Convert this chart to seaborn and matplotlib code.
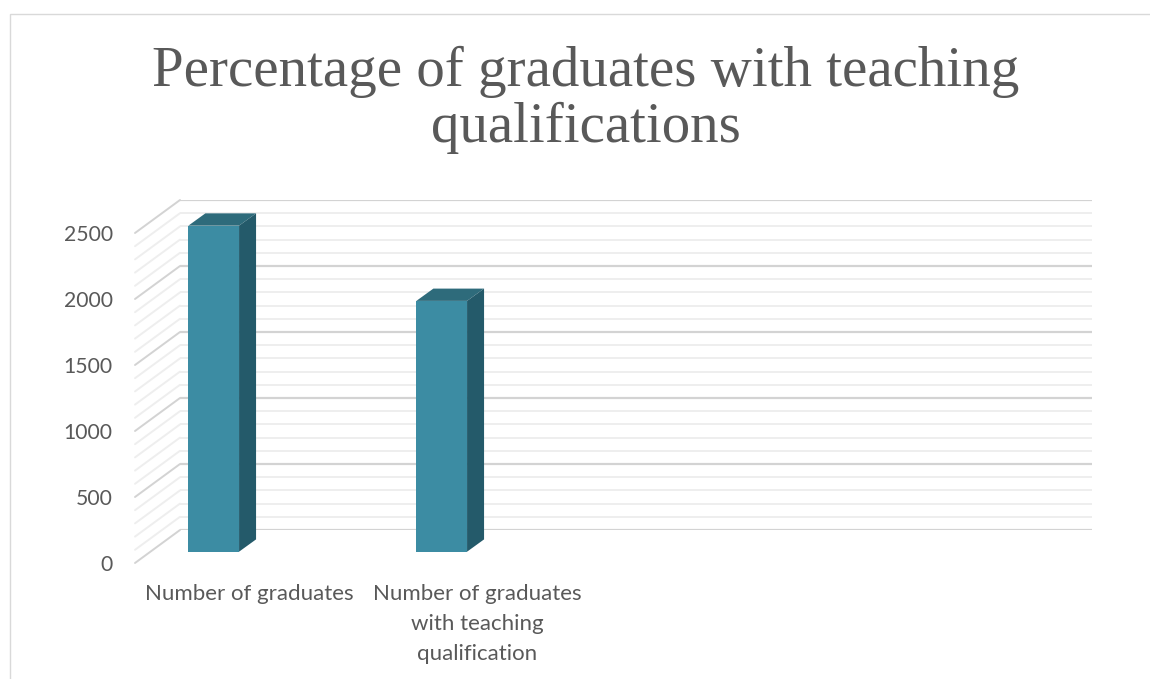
import textwrap
import matplotlib
matplotlib.use('Agg')
import matplotlib.pyplot as plt
from matplotlib.patches import Polygon, Rectangle, ConnectionPatch
import pandas as pd
import seaborn as sns

# data
categories = ["Number of graduates", "Number of graduates with teaching qualification", " ", "  "]
values = [2470, 1900]
series_names = ["Series1", "Series2", "Series3"]
y_ticks = [0, 500, 1000, 1500, 2000, 2500]
minor_ticks = list(range(0, 2501, 100))
title_lines = ["Percentage of graduates with teaching", "qualifications"]

FRONT = "#3c8ca3"
TOP = "#2e6b7b"
SIDE = "#245a6a"
TEXT = "#595959"
GRID_MAJOR = "#d3d3d3"
GRID_MINOR = "#eeeeee"

W, H = 1150, 679
sns.set_theme(style="white")
plt.rcParams['font.family'] = ['Lato', 'DejaVu Sans']

fig = plt.figure(figsize=(W / 100, H / 100), dpi=100)

plane_w = 912 / W
plane_h = 330 / H


def place(left_px, bottom_px):
    # left / bottom corner of a plane in pixels (y measured from the top)
    return [left_px / W, (H - bottom_px) / H, plane_w, plane_h]


# back wall, bar plane and front edge share the same scale, shifted in depth
back = fig.add_axes(place(180, 530), zorder=0)
front = fig.add_axes(place(135, 563), zorder=1)
ax = fig.add_axes(place(150.4, 551.7), zorder=2)

df = pd.DataFrame({"category": categories[:len(values)], "value": values, "series": series_names[0]})
sns.barplot(data=df, x="category", y="value", hue="series", order=categories,
            hue_order=series_names, palette={s: FRONT for s in series_names},
            width=0.667, dodge=True, linewidth=0, saturation=1, legend=False, ax=ax)

for a in (back, front, ax):
    a.set_xlim(-0.5, len(categories) - 0.5)
    a.set_ylim(0, y_ticks[-1])
    a.patch.set_visible(False)
    for s in a.spines.values():
        s.set_visible(False)
    a.set_xlabel("")
    a.set_ylabel("")
back.set_xticks([])
back.set_yticks([])
ax.set_xticks([])
ax.set_yticks([])

# back wall gridlines
for v in minor_ticks:
    major = v in y_ticks
    back.axhline(v, color=GRID_MAJOR if major else GRID_MINOR, lw=1.6 if major else 1.4, zorder=1 if major else 0)
    # side wall lines
    con = ConnectionPatch(xyA=(-0.5, v), coordsA=front.transData, xyB=(-0.5, v), coordsB=back.transData,
                          color=GRID_MAJOR if major else GRID_MINOR, lw=1.4)
    fig.add_artist(con)

# front edge carries the labels
front.set_yticks(y_ticks)
front.set_yticklabels([str(t) for t in y_ticks])
front.set_xticks(range(len(categories)))
front.set_xticklabels([textwrap.fill(c, 20) if c.strip() else "" for c in categories], linespacing=1.62)
front.tick_params(axis="y", length=0, pad=16, labelsize=15.2, labelcolor=TEXT)
front.tick_params(axis="x", length=0, pad=15, labelsize=16, labelcolor=TEXT)

# 3d faces of the bars
dx = 17 / (912 / len(categories))
dy = 12.3 * y_ticks[-1] / 330
for p in ax.patches:
    h = p.get_height()
    if not h or h != h:
        continue
    x0, w = p.get_x(), p.get_width()
    ax.add_patch(Polygon([(x0, h), (x0 + w, h), (x0 + w + dx, h + dy), (x0 + dx, h + dy)],
                         closed=True, facecolor=TOP, edgecolor="none", clip_on=False, zorder=3))
    ax.add_patch(Polygon([(x0 + w, 0), (x0 + w + dx, dy), (x0 + w + dx, h + dy), (x0 + w, h)],
                         closed=True, facecolor=SIDE, edgecolor="none", clip_on=False, zorder=3))

# title, one baseline per line
for i, line in enumerate(title_lines):
    fig.text(586 / W, 1 - (86 + 56 * i) / H, line, ha="center", va="baseline", fontsize=41,
             family=["Liberation Serif", "DejaVu Serif"], color=TEXT)

# chart frame
fig.add_artist(Rectangle((9.5 / W, -0.05), 1.2, 1.05 - 14 / H, transform=fig.transFigure,
                         fill=False, edgecolor="#d9d9d9", lw=1))

fig.savefig("out.png", dpi=100)
